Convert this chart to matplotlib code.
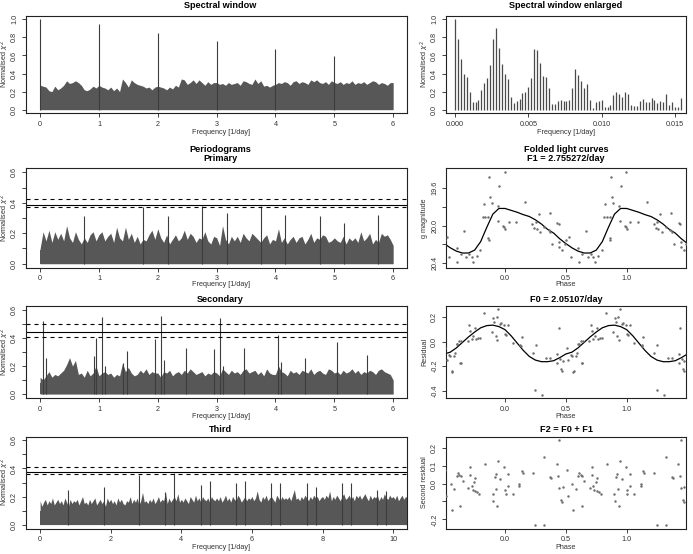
import numpy as np
import matplotlib
matplotlib.use("Agg")
import matplotlib.pyplot as plt

plt.rcParams['font.family'] = ['Liberation Sans', 'DejaVu Sans']

W, H, DPI = 693, 554, 100

# ---------------- data ----------------
# Spectral window (0..6 step 0.05) noise envelope + main peaks
sw_noise = [
    0.27,0.26,0.25,0.21,0.20,0.26,0.22,0.24,0.27,0.32,0.29,0.30,0.32,0.30,0.27,0.22,0.21,0.23,0.26,0.24,
    0.27,0.25,0.24,0.22,0.25,0.21,0.24,0.20,0.34,0.30,0.25,0.33,0.30,0.28,0.27,0.26,0.24,0.25,0.22,0.25,
    0.26,0.25,0.24,0.22,0.25,0.23,0.27,0.25,0.34,0.33,0.28,0.30,0.33,0.29,0.33,0.30,0.27,0.31,0.28,0.30,
    0.30,0.28,0.29,0.27,0.30,0.28,0.29,0.30,0.27,0.32,0.31,0.29,0.28,0.34,0.29,0.32,0.26,0.27,0.25,0.27,
    0.28,0.30,0.29,0.31,0.30,0.27,0.31,0.32,0.29,0.31,0.30,0.28,0.33,0.31,0.33,0.30,0.29,0.31,0.28,0.32,
    0.30,0.29,0.31,0.28,0.30,0.29,0.32,0.28,0.30,0.29,0.31,0.28,0.30,0.32,0.31,0.28,0.30,0.29,0.27,0.30,
    0.30]
sw_floor = [0.19, 0.20, 0.20, 0.21, 0.21, 0.21]
sw_peak_freq = [0, 1, 2, 3, 4, 5]
sw_peak_val = [1.00, 0.95, 0.85, 0.76, 0.67, 0.59]

# Spectral window enlarged (0 .. 0.0154 step 0.0002)
swe_vals = [1.00,0.78,0.56,0.40,0.36,0.20,0.09,0.09,0.11,0.22,0.30,0.35,0.49,0.78,0.90,0.68,
            0.51,0.39,0.34,0.14,0.07,0.10,0.12,0.18,0.20,0.25,0.35,0.67,0.66,0.52,0.37,0.36,
            0.24,0.06,0.06,0.10,0.11,0.10,0.10,0.11,0.24,0.45,0.38,0.32,0.24,0.28,0.11,0.02,
            0.08,0.10,0.11,0.03,0.03,0.05,0.16,0.20,0.17,0.14,0.20,0.17,0.05,0.04,0.04,0.10,
            0.12,0.09,0.08,0.13,0.11,0.07,0.10,0.09,0.17,0.05,0.09,0.03,0.03,0.13]

# Primary periodogram
p1_noise = [
    0.10,0.21,0.15,0.22,0.14,0.21,0.16,0.20,0.15,0.25,0.17,0.14,0.21,0.16,0.13,0.17,0.14,0.19,0.21,0.15,
    0.19,0.21,0.15,0.18,0.20,0.14,0.24,0.17,0.15,0.24,0.16,0.20,0.14,0.18,0.13,0.16,0.15,0.19,0.22,0.16,
    0.23,0.17,0.14,0.19,0.13,0.16,0.19,0.15,0.17,0.22,0.16,0.20,0.18,0.14,0.17,0.16,0.21,0.15,0.13,0.18,
    0.17,0.12,0.25,0.16,0.13,0.18,0.15,0.18,0.14,0.20,0.17,0.15,0.20,0.18,0.16,0.14,0.17,0.19,0.13,0.16,
    0.15,0.23,0.14,0.17,0.13,0.16,0.18,0.14,0.17,0.18,0.13,0.16,0.20,0.14,0.17,0.16,0.19,0.18,0.14,0.15,
    0.17,0.15,0.14,0.18,0.13,0.17,0.15,0.17,0.14,0.21,0.15,0.17,0.20,0.13,0.16,0.14,0.20,0.18,0.19,0.16,
    0.12]
p1_floor = [0.09, 0.09, 0.09, 0.09, 0.09, 0.09]
p1_peak_freq = [0.75, 1.75, 2.17, 2.75, 3.18, 3.75, 4.17, 4.75, 5.17, 5.75]
p1_peak_val = [0.31, 0.37, 0.31, 0.38, 0.33, 0.38, 0.32, 0.31, 0.27, 0.32]
p1_levels = [0.385, 0.422, 0.369]

# Secondary periodogram
p2_noise = [
    0.12,0.10,0.13,0.16,0.12,0.14,0.13,0.15,0.17,0.21,0.26,0.20,0.24,0.14,0.15,0.12,0.17,0.13,0.15,0.20,
    0.13,0.15,0.16,0.14,0.15,0.12,0.14,0.13,0.22,0.16,0.19,0.15,0.13,0.14,0.17,0.15,0.18,0.14,0.16,0.15,
    0.15,0.12,0.16,0.15,0.17,0.13,0.15,0.16,0.14,0.17,0.15,0.18,0.16,0.14,0.15,0.16,0.13,0.15,0.14,0.16,
    0.15,0.13,0.18,0.16,0.14,0.17,0.15,0.16,0.14,0.17,0.18,0.15,0.16,0.17,0.14,0.16,0.13,0.18,0.15,0.14,
    0.14,0.20,0.16,0.15,0.13,0.17,0.15,0.16,0.14,0.17,0.16,0.15,0.18,0.14,0.16,0.17,0.15,0.14,0.18,0.17,
    0.15,0.16,0.14,0.17,0.15,0.16,0.18,0.15,0.17,0.14,0.16,0.15,0.17,0.16,0.14,0.17,0.18,0.16,0.15,0.14,
    0.10]
p2_floor = [0.08, 0.08, 0.08, 0.08, 0.08, 0.08]
p2_peak_freq = [0.05, 0.10, 0.92, 0.95, 1.05, 1.10, 1.40, 1.48, 1.95, 2.05, 2.10, 2.48, 2.95,
                3.05, 3.10, 3.47, 4.05, 4.10, 4.50, 5.05, 5.55]
p2_peak_val = [0.52, 0.26, 0.27, 0.40, 0.55, 0.20, 0.22, 0.31, 0.39, 0.56, 0.24, 0.33, 0.32,
               0.54, 0.20, 0.33, 0.42, 0.23, 0.26, 0.37, 0.28]
p2_levels = [0.445, 0.498, 0.410]

# Third periodogram (0 .. 10.4 step 0.05)
p3_noise = [
    0.17,0.13,0.16,0.18,0.14,0.17,0.15,0.19,0.14,0.16,0.18,0.15,0.17,0.14,0.19,0.16,0.13,0.18,0.15,0.17,
    0.16,0.18,0.14,0.17,0.20,0.15,0.16,0.14,0.18,0.15,0.17,0.19,0.14,0.16,0.18,0.15,0.17,0.13,0.19,0.16,
    0.18,0.15,0.17,0.14,0.19,0.16,0.18,0.15,0.14,0.17,0.16,0.20,0.15,0.18,0.16,0.19,0.14,0.17,0.23,0.16,
    0.17,0.15,0.18,0.16,0.19,0.15,0.17,0.20,0.16,0.18,0.17,0.23,0.15,0.19,0.16,0.18,0.20,0.17,0.22,0.16,
    0.18,0.16,0.19,0.17,0.15,0.20,0.18,0.16,0.21,0.17,0.19,0.16,0.20,0.18,0.17,0.19,0.16,0.20,0.18,0.17,
    0.19,0.17,0.20,0.16,0.18,0.21,0.17,0.19,0.16,0.20,0.18,0.17,0.21,0.19,0.16,0.18,0.20,0.17,0.19,0.18,
    0.20,0.17,0.19,0.24,0.18,0.16,0.20,0.18,0.21,0.17,0.19,0.20,0.18,0.16,0.21,0.19,0.17,0.20,0.18,0.19,
    0.18,0.20,0.17,0.21,0.25,0.18,0.19,0.17,0.20,0.18,0.21,0.19,0.17,0.20,0.18,0.21,0.19,0.20,0.17,0.19,
    0.20,0.18,0.21,0.19,0.24,0.17,0.20,0.18,0.21,0.19,0.17,0.20,0.22,0.18,0.19,0.21,0.18,0.20,0.17,0.21,
    0.19,0.21,0.18,0.20,0.22,0.19,0.17,0.21,0.18,0.20,0.19,0.21,0.17,0.20,0.18,0.22,0.19,0.18,0.21,0.19,
    0.20,0.18,0.21,0.17,0.19,0.21,0.18,0.20,0.19]
p3_floor = [0.10]*11
p3_peak_freq = [0.8, 1.8, 2.8, 3.55, 3.8, 4.55, 4.8, 5.55, 5.8, 6.55, 6.8, 7.55, 7.8, 8.55, 8.8, 9.55, 9.8]
p3_peak_val = [0.25, 0.27, 0.35, 0.23, 0.37, 0.28, 0.31, 0.30, 0.31, 0.30, 0.30, 0.30, 0.27, 0.30, 0.30, 0.25, 0.24]
p3_levels = [0.375, 0.409, 0.363]

# Folded light curve F1 (one cycle of phases)
f1_phase = [0.526,0.542,0.603,0.608,0.636,0.663,0.680,0.707,0.726,0.737,0.767,0.795,0.825,0.836,
            0.817,0.863,0.867,0.863,0.871,0.879,0.891,0.940,0.951,0.945,0.986,0.994,0.997,0.000,
            0.030,0.093,0.167,0.225,0.238,0.252,0.260,0.277,0.288,0.320,0.359,0.367,0.370,0.389,
            0.430,0.441,0.444,0.444,0.470,0.490,0.505]
f1_mag = [20.125,20.33,20.234,20.386,20.30,20.058,20.33,20.30,20.336,20.386,20.32,20.259,19.776,19.907,
          19.907,20.129,20.15,19.907,19.49,19.70,19.76,19.79,19.58,19.95,20.00,20.02,19.44,20.04,
          19.96,19.96,19.75,19.984,20.03,19.96,20.04,19.88,20.065,20.02,20.05,19.87,20.07,20.20,
          19.97,19.98,20.17,20.23,20.26,20.20,20.15]
f1_curve_phase = [0.00,0.05,0.10,0.15,0.20,0.25,0.30,0.35,0.40,0.45,0.50,0.55,0.60,0.65,0.70,0.75,0.80,0.85,0.90,0.95]
f1_curve_mag = [19.82,19.84,19.86,19.885,19.905,19.94,19.985,20.04,20.08,20.14,20.19,20.235,20.27,20.29,20.29,20.26,20.17,20.02,19.88,19.82]

# F0 residuals
f0_phase = [0.542,0.562,0.584,0.608,0.622,0.630,0.641,0.693,0.707,0.712,0.726,0.740,0.753,0.762,0.780,0.795,
            0.830,0.890,0.904,0.910,0.923,0.932,0.937,0.942,0.959,0.970,0.995,0.000,0.010,0.027,0.063,0.123,
            0.137,0.130,0.227,0.247,0.253,0.307,0.337,0.370,0.430,0.430,0.440,0.452,0.463,0.470,0.474,0.507,
            0.520,0.548,0.567,0.589,0.603,0.636]
f0_res = [-0.112,-0.247,-0.115,-0.019,0.005,-0.170,0.005,0.005,0.137,0.090,0.027,0.049,0.110,0.027,0.035,0.035,
          0.238,0.082,0.192,0.165,0.047,0.205,0.014,0.266,0.150,0.155,0.135,0.068,0.055,0.142,-0.008,-0.022,
          0.041,-0.033,-0.088,-0.397,-0.025,-0.433,-0.130,-0.130,-0.100,-0.170,0.115,-0.140,-0.225,-0.240,-0.156,-0.050,
          -0.150,-0.118,-0.238,-0.090,-0.014,-0.170]
f0_curve_phase = [0.00,0.05,0.10,0.15,0.20,0.25,0.30,0.35,0.40,0.45,0.50,0.55,0.60,0.65,0.70,0.75,0.80,0.85,0.90,0.95]
f0_curve_res = [0.10,0.05,-0.01,-0.07,-0.12,-0.15,-0.163,-0.163,-0.155,-0.13,-0.10,-0.085,-0.05,-0.005,0.04,0.08,0.115,0.133,0.137,0.125]

# F2 second residuals
f2_phase = [0.553,0.562,0.584,0.603,0.611,0.625,0.630,0.636,0.652,0.699,0.712,0.712,0.726,0.734,0.745,0.753,
            0.753,0.773,0.789,0.836,0.899,0.904,0.915,0.923,0.926,0.937,0.942,0.959,0.992,0.000,0.005,0.027,
            0.027,0.063,0.118,0.118,0.137,0.145,0.227,0.247,0.323,0.323,0.370,0.378,0.425,0.438,0.447,0.447,
            0.460,0.468,0.474,0.507,0.515]
f2_res = [-0.004,-0.147,-0.032,0.044,0.059,0.048,-0.128,0.044,0.013,-0.023,0.091,0.050,-0.013,-0.036,0.010,0.030,
          -0.042,-0.048,-0.057,0.110,-0.061,-0.099,0.038,0.053,-0.029,-0.124,0.126,0.025,0.095,-0.038,-0.061,0.053,
          -0.013,-0.057,0.000,-0.013,0.072,0.059,0.057,-0.229,0.149,-0.232,0.038,0.033,0.110,0.040,0.244,-0.027,
          -0.090,-0.105,-0.019,0.078,-0.070]

# ---------------- helpers ----------------
fig = plt.figure(figsize=(W / DPI, H / DPI), dpi=DPI)
FS_TICK = 5.2
FS_LAB = 5.2
FS_TITLE = 6.6
FILL = '#575757'


def px_axes(l, t, r, b):
    return fig.add_axes([l / W, 1 - b / H, (r - l) / W, (b - t) / H])


def style(ax, xticks, xlabels, yticks, ylabels):
    ax.set_xticks(xticks)
    ax.set_xticklabels(xlabels)
    ax.set_yticks(yticks)
    ax.set_yticklabels(ylabels, rotation=90, va='center')
    ax.tick_params(direction='out', length=3.2, width=0.6, labelsize=FS_TICK, colors='#222222',
                   labelcolor='#333333')
    ax.tick_params(axis='x', pad=2.4)
    ax.tick_params(axis='y', pad=2.4)
    for s in ax.spines.values():
        s.set_linewidth(0.8)
        s.set_color('#222222')


def ftext(x, y, s, size, bold=False, rot=0):
    fig.text(x / W, 1 - y / H, s, ha='center', va='center', fontsize=size,
             fontweight='bold' if bold else 'normal', rotation=rot, color='black' if bold else '#333333')


def periodogram(ax, noise, floor, pf, pv, step=0.05):
    f = np.arange(len(noise)) * step
    ax.fill_between(f, 0, noise, color=FILL, lw=0)
    n = int(round(1 / step))
    fl = [floor[min(i // n, len(floor) - 1)] for i in range(len(noise))]
    ax.fill_between(f, 0, fl, color=FILL, lw=0, step='mid')
    ax.vlines(pf, 0, pv, color='#3d3d3d', lw=0.8)


def levels(ax, lv):
    ax.axhline(lv[0], color='black', lw=0.8)
    ax.axhline(lv[1], color='black', lw=0.8, ls=(0, (3.6, 3.6)))
    ax.axhline(lv[2], color='black', lw=0.8, ls=(0, (3.6, 3.6)))


def tile(ph, val):
    ph = np.asarray(ph)
    val = np.asarray(val)
    return np.concatenate([ph - 1, ph, ph + 1]), np.concatenate([val, val, val])


# ---------------- panels ----------------
LX0, LX1 = 26, 407.3
RX0, RX1 = 446, 686
rows = [(15.7, 113.3), (167.7, 267.7), (306, 398), (436.5, 528.5)]

freq_ticks = [0, 1, 2, 3, 4, 5, 6]
pg_yt = [0.0, 0.1, 0.2, 0.3, 0.4, 0.5, 0.6]
pg_yl = ['0.0', '', '0.2', '', '0.4', '', '0.6']

# Spectral window
ax = px_axes(LX0, rows[0][0], LX1, rows[0][1])
periodogram(ax, sw_noise, sw_floor, sw_peak_freq, sw_peak_val)
ax.set_xlim(-0.24, 6.24)
ax.set_ylim(-0.04, 1.04)
style(ax, freq_ticks, [str(t) for t in freq_ticks], [0, 0.2, 0.4, 0.6, 0.8, 1.0],
      ['0.0', '0.2', '0.4', '0.6', '0.8', '1.0'])

# Spectral window enlarged
ax = px_axes(RX0, rows[0][0], RX1, rows[0][1])
fe = np.arange(len(swe_vals)) * 0.0002
ax.vlines(fe, 0, swe_vals, color='#4a4a4a', lw=0.9)
ax.set_xlim(-0.000614, 0.01575)
ax.set_ylim(-0.04, 1.04)
style(ax, [0, 0.005, 0.010, 0.015], ['0.000', '0.005', '0.010', '0.015'], [0, 0.2, 0.4, 0.6, 0.8, 1.0],
      ['0.0', '0.2', '0.4', '0.6', '0.8', '1.0'])

# Primary
ax = px_axes(LX0, rows[1][0], LX1, rows[1][1])
periodogram(ax, p1_noise, p1_floor, p1_peak_freq, p1_peak_val)
levels(ax, p1_levels)
ax.set_xlim(-0.24, 6.24)
ax.set_ylim(-0.026, 0.63)
style(ax, freq_ticks, [str(t) for t in freq_ticks], pg_yt, pg_yl)

# F1 folded
ax = px_axes(RX0, rows[1][0], RX1, rows[1][1])
px, py = tile(f1_phase, f1_mag)
ax.scatter(px, py, s=3.2, color='#707070', lw=0, zorder=3)
cx, cy = tile(f1_curve_phase, f1_curve_mag)
ax.plot(cx, cy, color='black', lw=0.9)
ax.set_xlim(-0.485, 1.488)
ax.set_ylim(20.445, 19.39)
style(ax, [0, 0.5, 1.0], ['0.0', '0.5', '1.0'], [19.6, 19.8, 20.0, 20.2, 20.4],
      ['19.6', '', '20.0', '', '20.4'])

# Secondary
ax = px_axes(LX0, rows[2][0], LX1, rows[2][1])
periodogram(ax, p2_noise, p2_floor, p2_peak_freq, p2_peak_val)
levels(ax, p2_levels)
ax.set_xlim(-0.24, 6.24)
ax.set_ylim(-0.028, 0.628)
style(ax, freq_ticks, [str(t) for t in freq_ticks], pg_yt, pg_yl)

# F0 residual
ax = px_axes(RX0, rows[2][0], RX1, rows[2][1])
px, py = tile(f0_phase, f0_res)
ax.scatter(px, py, s=3.2, color='#707070', lw=0, zorder=3)
cx, cy = tile(f0_curve_phase, f0_curve_res)
ax.plot(cx, cy, color='black', lw=0.9)
ax.set_xlim(-0.485, 1.488)
ax.set_ylim(-0.461, 0.294)
style(ax, [0, 0.5, 1.0], ['0.0', '0.5', '1.0'], [-0.4, -0.2, 0.0, 0.2], ['-0.4', '-0.2', '0.0', '0.2'])

# Third
ax = px_axes(LX0, rows[3][0], LX1, rows[3][1])
periodogram(ax, p3_noise, p3_floor, p3_peak_freq, p3_peak_val)
levels(ax, p3_levels)
ax.set_xlim(-0.4, 10.4)
ax.set_ylim(-0.028, 0.628)
style(ax, [0, 2, 4, 6, 8, 10], ['0', '2', '4', '6', '8', '10'], pg_yt, pg_yl)

# F2 second residual
ax = px_axes(RX0, rows[3][0], RX1, rows[3][1])
px, py = tile(f2_phase, f2_res)
ax.scatter(px, py, s=3.2, color='#707070', lw=0, zorder=3)
ax.set_xlim(-0.485, 1.488)
ax.set_ylim(-0.251, 0.263)
style(ax, [0, 0.5, 1.0], ['0.0', '0.5', '1.0'], [-0.2, -0.1, 0.0, 0.1, 0.2], ['-0.2', '', '0.0', '0.1', '0.2'])

# ---------------- texts ----------------
LC = (LX0 + LX1) / 2 + 4
RC = (RX0 + RX1) / 2
ftext(LC, 6, 'Spectral window', FS_TITLE, True)
ftext(RC, 6, 'Spectral window enlarged', FS_TITLE, True)
ftext(LC, 149.5, 'Periodograms', FS_TITLE, True)
ftext(LC, 158.5, 'Primary', FS_TITLE, True)
ftext(RC, 149.5, 'Folded light curves', FS_TITLE, True)
ftext(RC, 158.5, 'F1 = 2.755272/day', FS_TITLE, True)
ftext(LC, 300, 'Secondary', FS_TITLE, True)
ftext(RC, 300, 'F0 = 2.05107/day', FS_TITLE, True)
ftext(LC, 430, 'Third', FS_TITLE, True)
ftext(RC, 430, 'F2 = F0 + F1', FS_TITLE, True)

for y in (132.7, 285, 416.5, 547.7):
    ftext(LC, y, 'Frequency [1/day]', FS_LAB)
for y in (132.7, 285, 416.5, 547.7):
    if y == 132.7:
        ftext(RC, y, 'Frequency [1/day]', FS_LAB)
    else:
        ftext(RC, y, 'Phase', FS_LAB)

ylab = r'Normalised $\chi^2$'
for (t, b) in rows:
    ftext(5, (t + b) / 2, ylab, FS_LAB, rot=90)
ftext(RX0 - 21, (rows[0][0] + rows[0][1]) / 2, ylab, FS_LAB, rot=90)
ftext(RX0 - 21, (rows[1][0] + rows[1][1]) / 2, 'g magnitude', FS_LAB, rot=90)
ftext(RX0 - 21, (rows[2][0] + rows[2][1]) / 2, 'Residual', FS_LAB, rot=90)
ftext(RX0 - 21, (rows[3][0] + rows[3][1]) / 2, 'Second residual', FS_LAB, rot=90)

fig.savefig('out.png', dpi=DPI)
